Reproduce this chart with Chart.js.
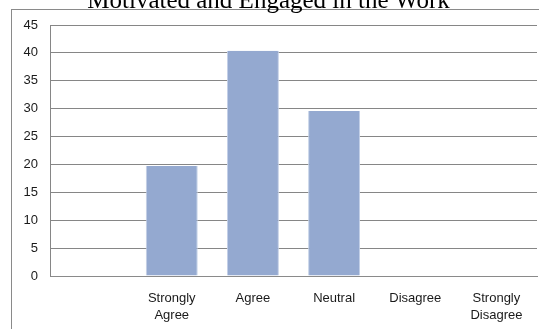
<!DOCTYPE html>
<html lang="en">
<head>
  <meta charset="UTF-8">
  <title>Motivated and Engaged in the Work</title>
  <script src="https://cdn.jsdelivr.net/npm/chart.js"></script>
  <style>
    html, body { margin: 0; padding: 0; background: #fff; overflow: hidden; }
    body { width: 539px; height: 329px; position: relative; }
    #frame { position: absolute; left: 11px; top: 9px; width: 600px; height: 400px; border: 1px solid #8a8a8a; }
    #wrap { position: absolute; left: 0; top: -30px; width: 539px; height: 359px; }
  </style>
</head>
<body>
  <div id="frame"></div>
  <div id="wrap"><canvas id="grafica"></canvas></div>

  <script>
    const categorias = ['', ['Strongly', 'Agree'], 'Agree', 'Neutral', 'Disagree', ['Strongly', 'Disagree']];
    const valores = [null, 19.7, 40.4, 29.6, 0, 0];
    const yTicks = [0, 5, 10, 15, 20, 25, 30, 35, 40, 45];

    const fuente = { family: 'Liberation Sans', size: 13 };

    const ctx = document.getElementById('grafica').getContext('2d');
    new Chart(ctx, {
      type: 'bar',
      data: {
        labels: categorias,
        datasets: [{
          data: valores,
          backgroundColor: '#94a9d0',
          borderColor: '#c2cfe6',
          borderWidth: { left: 1, right: 1, top: 0, bottom: 0 },
          barPercentage: 0.64,
          categoryPercentage: 1
        }]
      },
      options: {
        responsive: true,
        maintainAspectRatio: false,
        animation: false,
        layout: { padding: { left: 0, right: 2, top: 0, bottom: 0 } },
        scales: {
          x: {
            grid: { display: false, drawTicks: false },
            border: { color: '#8a8a8a', width: 1 },
            ticks: { color: '#1a1a1a', font: { ...fuente, lineHeight: 1.3 }, padding: 14, maxRotation: 0, autoSkip: false },
            afterFit: (s) => { s.height = 53; }
          },
          y: {
            min: 0,
            max: 45,
            afterBuildTicks: (s) => { s.ticks = yTicks.map(v => ({ value: v })); },
            grid: { color: '#868686', lineWidth: 1, drawTicks: false },
            border: { color: '#868686', width: 1 },
            ticks: { color: '#1a1a1a', font: fuente, padding: 12 },
            afterFit: (s) => { s.width = 50; }
          }
        },
        plugins: {
          legend: { display: false },
          tooltip: { enabled: false },
          title: {
            display: true,
            text: 'Motivated and Engaged in the Work',
            color: '#000',
            font: { family: 'Liberation Serif', size: 25, weight: 'normal' },
            padding: { top: 16.5, bottom: 8.5 }
          }
        }
      }
    });
  </script>
</body>
</html>
